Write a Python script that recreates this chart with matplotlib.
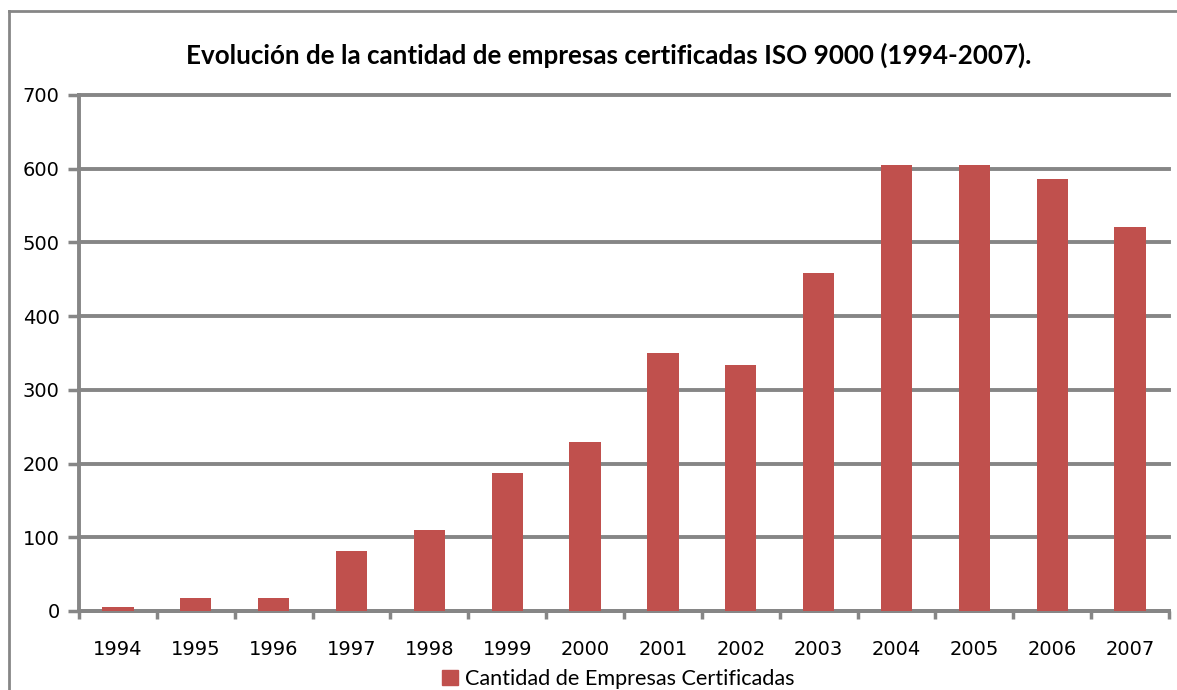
import matplotlib
matplotlib.use("Agg")
import matplotlib.pyplot as plt
from matplotlib.lines import Line2D
from matplotlib.patches import Patch
import numpy as np

# data
years = ['1994', '1995', '1996', '1997', '1998', '1999', '2000',
         '2001', '2002', '2003', '2004', '2005', '2006', '2007']
empresas = [5, 18, 18, 81, 110, 187, 229, 350, 334, 458, 605, 605, 586, 521]
yticks = [0, 100, 200, 300, 400, 500, 600, 700]

bar_color = '#C0504D'
grid_color = '#868686'

fig = plt.figure(figsize=(11.77, 6.9), dpi=100)
fig.patch.set_facecolor('white')

# outer chart border: only top and left edges are inside the picture
bx, by = 9 / 1177, 1 - 11 / 690
fig.lines.append(Line2D([bx, 1.0], [by, by], transform=fig.transFigure,
                        color=grid_color, linewidth=2))
fig.lines.append(Line2D([bx, bx], [0.0, by], transform=fig.transFigure,
                        color=grid_color, linewidth=2))

ax = fig.add_axes([79 / 1177, 1 - 611 / 690, (1169 - 79) / 1177, (611 - 95) / 690])
x = np.arange(len(years))
ax.bar(x, empresas, width=0.4, color=bar_color, zorder=3)

ax.set_xlim(-0.5, len(years) - 0.5)
ax.set_ylim(0, 700)
ax.set_yticks(yticks)
ax.set_yticklabels([str(v) for v in yticks], fontsize=14, color='black')
ax.set_xticks(x)
ax.set_xticklabels(years, fontsize=14, color='black')
ax.tick_params(axis='x', which='major', length=0, pad=21)
ax.set_xticks(np.arange(-0.5, len(years), 1), minor=True)
ax.tick_params(axis='x', which='minor', length=6, width=2.5, color=grid_color, direction='out')
ax.tick_params(axis='y', length=8, width=2.5, color=grid_color, direction='out', pad=6)

ax.grid(axis='y', color=grid_color, linewidth=2.8, zorder=0)
for gl in ax.get_ygridlines():
    gl.set_clip_on(False)
ax.set_axisbelow(True)
for s in ['top', 'right']:
    ax.spines[s].set_visible(False)
for s in ['left', 'bottom']:
    ax.spines[s].set_color(grid_color)
    ax.spines[s].set_linewidth(2.8)

fig.text(0.5 * (188 + 1030) / 1177, 1 - 55 / 690,
         'Evolución de la cantidad de empresas certificadas ISO 9000 (1994-2007).',
         ha='center', va='center', fontsize=18.7, fontweight='bold', family='Lato')

fig.legend(handles=[Patch(color=bar_color, label='Cantidad de Empresas Certificadas')],
           loc='center', bbox_to_anchor=(618 / 1177, 1 - 679 / 690), frameon=False,
           prop={'family': 'Lato', 'size': 15.6}, handlelength=0.75, handleheight=0.75,
           handletextpad=0.3, borderpad=0)

fig.savefig('out.png', dpi=100)
